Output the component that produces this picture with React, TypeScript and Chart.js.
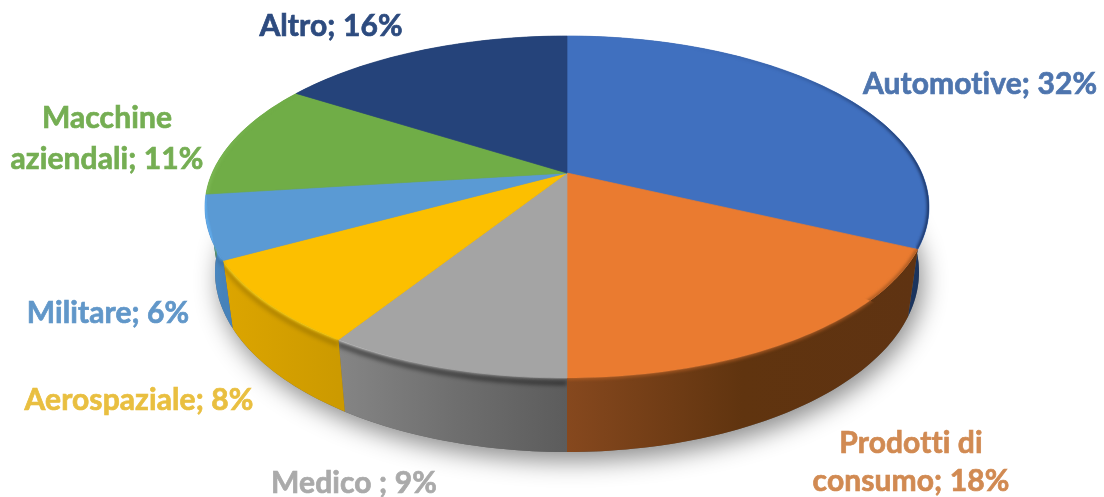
import React, { useEffect, useRef } from "react";
import { Chart, registerables } from "chart.js";

Chart.register(...registerables);

const categories = ["Automotive", "Prodotti di consumo", "Medico ", "Aerospaziale", "Militare", "Macchine aziendali", "Altro"];
const shares = [32, 18, 9, 8, 6, 11, 16];
const faceColors = ["#4070bf", "#ea7b30", "#a4a4a4", "#fcbf00", "#5a9ad4", "#70ad47", "#25437a"];
const labelColors = ["#4e75ae", "#d18a52", "#aaaaaa", "#e9bf40", "#6197c9", "#75ae53", "#2d4b7f"];

// Wall shading runs left to right across each slice's own extent.
const wallShades = [
  ["#29487e", "#1a335c"],
  ["#86481e", "#60340f", "#5f3312"],
  ["#858585", "#6f6f6f", "#5c5c5c"],
  ["#dca500", "#cc9a00"],
  ["#4f8dc6", "#4682ba"],
  ["#5a8f3a", "#5a8f3a"],
  ["#1b3359", "#1b3359"],
];
// Bevel along the top edge: colours from the left to the right end of each slice.
const bevelShades = [
  ["rgba(22,44,88,0)", "rgba(22,44,88,0)", "rgba(22,44,88,0.25)", "rgba(22,44,88,0.9)"],
  ["rgba(170,90,35,0.85)", "rgba(160,85,32,0.85)"],
  ["rgba(240,240,240,1)", "rgba(215,215,215,0.9)", "rgba(190,190,190,0.4)"],
  ["rgba(255,228,40,1)", "rgba(255,228,40,1)"],
  ["rgba(100,178,245,1)", "rgba(100,178,245,0.8)"],
  ["rgba(130,190,90,0.7)", "rgba(112,173,71,0)"],
  ["rgba(40,70,120,0)", "rgba(40,70,120,0)"],
];
const bevelLift = [0, 0, 2, 2, 1, 0, 0];
const bevelDark = [0, 0, 0.5, 0.2, 0.15, 0, 0];

const labelBoxes = [
  { x: 980, ys: [94] },
  { x: 911, ys: [453, 491] },
  { x: 354, ys: [493] },
  { x: 139, ys: [410] },
  { x: 108, ys: [323] },
  { x: 107, ys: [128, 169] },
  { x: 331, ys: [36] },
];
const labelLines = [
  ["Automotive; 32%"],
  ["Prodotti di", "consumo; 18%"],
  ["Medico ; 9%"],
  ["Aerospaziale; 8%"],
  ["Militare; 6%"],
  ["Macchine", "aziendali; 11%"],
  ["Altro; 16%"],
];

// Geometry of the tilted disc: top rim, bottom rim and the perspective shift of the hub.
const top = { cx: 567, cy: 207, rx: 362, ry: 171 };
const bottom = { cx: 567, cy: 272, rx: 352, ry: 180 };
const hubY = 173;
const shift = (hubY - top.cy) / top.ry;

// Projects a circle angle onto the unit rim with the hub moved off centre.
function project(angle: number) {
  const x = Math.cos(angle);
  const y = Math.sin(angle);
  const d = 1 + shift * y;
  return { nx: (x * Math.sqrt(1 - shift * shift)) / d, ny: (y + shift) / d };
}

function rimPoints(a0: number, a1: number) {
  const steps = Math.max(6, Math.ceil((a1 - a0) / 0.02));
  const pts = [];
  for (let i = 0; i <= steps; i++) pts.push(project(a0 + ((a1 - a0) * i) / steps));
  return pts;
}

const onTop = (p: { nx: number; ny: number }) => [top.cx + top.rx * p.nx, top.cy + top.ry * p.ny];
const onBottom = (p: { nx: number; ny: number }) => [bottom.cx + bottom.rx * p.nx, bottom.cy + bottom.ry * p.ny];

function wedgePath(ctx: CanvasRenderingContext2D, pts: { nx: number; ny: number }[]) {
  ctx.beginPath();
  ctx.moveTo(top.cx, hubY);
  pts.forEach((p) => {
    const [x, y] = onTop(p);
    ctx.lineTo(x, y);
  });
  ctx.closePath();
}

function wallPath(ctx: CanvasRenderingContext2D, pts: { nx: number; ny: number }[]) {
  ctx.beginPath();
  pts.forEach((p, i) => {
    const [x, y] = onTop(p);
    if (i) ctx.lineTo(x, y);
    else ctx.moveTo(x, y);
  });
  for (let i = pts.length - 1; i >= 0; i--) {
    const [x, y] = onBottom(pts[i]);
    ctx.lineTo(x, y);
  }
  ctx.closePath();
}

function sliceOutline(ctx: CanvasRenderingContext2D, pts: { nx: number; ny: number }[]) {
  ctx.beginPath();
  ctx.moveTo(top.cx, hubY);
  pts.forEach((p) => {
    const [x, y] = onTop(p);
    ctx.lineTo(x, y);
  });
  for (let k = pts.length - 1; k >= 0; k--) {
    const [x, y] = onBottom(pts[k]);
    ctx.lineTo(x, y);
  }
  ctx.closePath();
}

function horizontalGradient(ctx: CanvasRenderingContext2D, pts: { nx: number; ny: number }[], stops: string[]) {
  const xs = pts.map((p) => onTop(p)[0]);
  const left = Math.min(...xs);
  const right = Math.max(...xs, left + 1);
  const g = ctx.createLinearGradient(left, 0, right, 0);
  stops.forEach((c, i) => g.addColorStop(i / (stops.length - 1), c));
  return g;
}

function strokeRim(ctx: CanvasRenderingContext2D, pts: { nx: number; ny: number }[], dy: number) {
  ctx.beginPath();
  pts.forEach((p, k) => {
    const [x, y] = onTop(p);
    if (k) ctx.lineTo(x, y + dy);
    else ctx.moveTo(x, y + dy);
  });
  ctx.stroke();
}

const discPlugin = {
  id: "tiltedDisc",
  beforeDatasetDraw(chart: any, args: any) {
    const ctx: CanvasRenderingContext2D = chart.ctx;
    const arcs = args.meta.data;
    const rims = arcs.map((a: any) => rimPoints(a.startAngle, a.endAngle));

    // Soft cast shadow beneath the disc.
    ctx.save();
    ctx.shadowColor = "rgba(0,0,0,0.45)";
    ctx.shadowBlur = 24;
    ctx.shadowOffsetX = 4;
    ctx.shadowOffsetY = 9;
    ctx.fillStyle = "#666";
    ctx.beginPath();
    ctx.ellipse(bottom.cx, bottom.cy, bottom.rx, bottom.ry, 0, 0, Math.PI * 2);
    ctx.fill();
    ctx.restore();

    rims.forEach((pts: any, i: number) => {
      ctx.fillStyle = horizontalGradient(ctx, pts, wallShades[i]);
      wallPath(ctx, pts);
      ctx.fill();
    });

    arcs.forEach((a: any, i: number) => {
      ctx.fillStyle = a.options.backgroundColor;
      wedgePath(ctx, rims[i]);
      ctx.fill();
      ctx.strokeStyle = a.options.backgroundColor;
      ctx.lineWidth = 0.7;
      ctx.stroke();
    });

    // Bevel: a blurred band along the top rim, kept inside each slice.
    rims.forEach((pts: any, i: number) => {
      ctx.save();
      sliceOutline(ctx, pts);
      ctx.clip();
      ctx.lineJoin = "round";
      if (bevelDark[i] > 0) {
        ctx.filter = "blur(2px)";
        ctx.strokeStyle = `rgba(0,0,0,${bevelDark[i]})`;
        ctx.lineWidth = 4;
        strokeRim(ctx, pts, 5);
      }
      ctx.filter = "blur(1.5px)";
      ctx.strokeStyle = horizontalGradient(ctx, pts, bevelShades[i]);
      ctx.lineWidth = 4;
      strokeRim(ctx, pts, -bevelLift[i]);
      ctx.restore();
    });

    // Slice labels.
    ctx.save();
    ctx.font = "bold 30px Lato, 'Noto Sans', sans-serif";
    (ctx as any).letterSpacing = "0.1px";
    ctx.textAlign = "center";
    ctx.textBaseline = "alphabetic";
    ctx.lineWidth = 0.7;
    labelLines.forEach((lines, i) => {
      ctx.fillStyle = labelColors[i];
      ctx.strokeStyle = labelColors[i];
      lines.forEach((line, k) => {
        ctx.fillText(line, labelBoxes[i].x, labelBoxes[i].ys[k]);
        ctx.strokeText(line, labelBoxes[i].x, labelBoxes[i].ys[k]);
      });
    });
    ctx.restore();
    return false;
  },
};

export default function App() {
  const ref = useRef<HTMLCanvasElement>(null);
  useEffect(() => {
    const chart = new Chart(ref.current!, {
      type: "pie",
      data: {
        labels: categories,
        datasets: [{ data: shares, backgroundColor: faceColors, borderWidth: 0 }],
      },
      options: {
        responsive: false,
        animation: false,
        plugins: { legend: { display: false }, tooltip: { enabled: false } },
      },
      plugins: [discPlugin],
    });
    return () => chart.destroy();
  }, []);
  return (
    <canvas
      ref={ref}
      width={1104}
      height={497}
      style={{ position: "absolute", left: 0, top: 0, display: "block", background: "#fff" }}
    />
  );
}
